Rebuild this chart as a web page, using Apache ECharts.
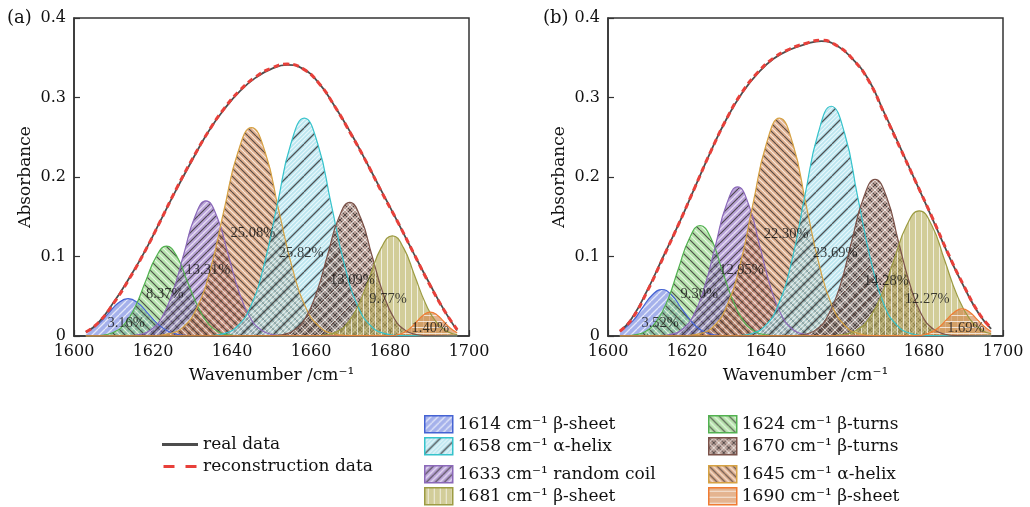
<!DOCTYPE html>
<html lang="en">
<head>
<meta charset="UTF-8">
<title>Amide I band deconvolution</title>
<script src="https://cdn.jsdelivr.net/npm/echarts@6/dist/echarts.min.js"></script>
<style>
  html, body { margin: 0; padding: 0; background: #fff; }
  #chart { width: 1030px; height: 507px; }
</style>
</head>
<body>
<div id="chart"></div>
<script>
// peak names (legend order follows the fitted components)
var peakNames = [
  '1614 cm⁻¹ β-sheet', '1624 cm⁻¹ β-turns', '1633 cm⁻¹ random coil', '1645 cm⁻¹ α-helix',
  '1658 cm⁻¹ α-helix', '1670 cm⁻¹ β-turns', '1681 cm⁻¹ β-sheet', '1690 cm⁻¹ β-sheet'
];

// ---- panel (a): fitted components [wavenumber, absorbance] ----
var a1614 = [[1603,0.0048],[1606.2,0.0153],[1608.7,0.0285],[1611.2,0.0415],[1613.7,0.047],[1616.2,0.0415],[1618.7,0.0285],[1621.2,0.0153],[1623.7,0.0064],[1626.2,0.0021],[1628.7,0.0005],[1631.2,0.0001],[1697,0]];
var a1624 = [[1603,0],[1604.9,0.0002],[1607.5,0.0013],[1610.2,0.005],[1612.8,0.0153],[1615.5,0.0367],[1618.1,0.0685],[1620.8,0.0997],[1623.4,0.113],[1626.1,0.0997],[1628.7,0.0685],[1631.4,0.0367],[1634,0.0153],[1636.7,0.005],[1639.3,0.0013],[1642,0.0002],[1697,0]];
var a1633 = [[1603,0],[1613.8,0.0004],[1616.6,0.0019],[1619.4,0.0075],[1622.2,0.023],[1625,0.0552],[1627.8,0.1031],[1630.6,0.15],[1633.4,0.17],[1636.2,0.15],[1639,0.1031],[1641.8,0.0552],[1644.6,0.023],[1647.4,0.0075],[1650.2,0.0019],[1653,0.0004],[1697,0]];
var a1645 = [[1603,0],[1620.8,0.0006],[1624.2,0.0029],[1627.7,0.0115],[1631.1,0.0354],[1634.6,0.0851],[1638,0.1589],[1641.5,0.2312],[1644.9,0.262],[1648.4,0.2312],[1651.8,0.1589],[1655.3,0.0851],[1658.7,0.0354],[1662.2,0.0115],[1665.6,0.0029],[1669.1,0.0006],[1697,0]];
var a1658 = [[1603,0],[1634.5,0.0006],[1637.9,0.003],[1641.3,0.012],[1644.7,0.0371],[1648.1,0.089],[1651.5,0.1662],[1654.9,0.2418],[1658.3,0.274],[1661.7,0.2418],[1665.1,0.1662],[1668.5,0.089],[1671.9,0.0371],[1675.3,0.012],[1678.7,0.003],[1682.1,0.0006],[1697,0]];
var a1670 = [[1603,0],[1650.2,0.0004],[1653,0.0019],[1655.8,0.0074],[1658.6,0.0227],[1661.4,0.0545],[1664.2,0.1019],[1667,0.1483],[1669.8,0.168],[1672.6,0.1483],[1675.4,0.1019],[1678.2,0.0545],[1681,0.0227],[1683.8,0.0074],[1686.6,0.0019],[1689.4,0.0004],[1697,0]];
var a1681 = [[1603,0],[1661,0.0003],[1663.8,0.0014],[1666.6,0.0055],[1669.4,0.017],[1672.2,0.0409],[1675,0.0764],[1677.8,0.1112],[1680.6,0.126],[1683.4,0.1112],[1686.2,0.0764],[1689,0.0409],[1691.8,0.017],[1694.6,0.0055],[1697,0.0017]];
var a1690 = [[1603,0],[1678.3,0.0001],[1680,0.0003],[1681.7,0.0013],[1683.4,0.0041],[1685.1,0.0097],[1686.8,0.0182],[1688.5,0.0265],[1690.2,0.03],[1691.9,0.0265],[1693.6,0.0182],[1695.3,0.0097],[1697,0.0041]];

var aReal = [[1603,0.005],[1606,0.016],[1610,0.042],[1614,0.073],[1618,0.107],[1622,0.146],[1626,0.185],[1630,0.222],[1634,0.257],[1638,0.285],[1642,0.308],[1646,0.325],[1650,0.336],[1654,0.341],[1658,0.336],[1662,0.318],[1666,0.289],[1670,0.256],[1674,0.219],[1678,0.181],[1682,0.143],[1686,0.104],[1690,0.066],[1694,0.03],[1697,0.007]];
var aRecon = [[1603,0.005],[1606,0.016],[1610,0.041],[1614,0.072],[1618,0.107],[1622,0.146],[1626,0.186],[1630,0.223],[1634,0.257],[1638,0.286],[1642,0.309],[1646,0.326],[1650,0.337],[1654,0.342],[1658,0.336],[1662,0.318],[1666,0.289],[1670,0.255],[1674,0.219],[1678,0.18],[1682,0.143],[1686,0.104],[1690,0.065],[1694,0.03],[1697,0.008]];

var aLabels = [[1613.2,0.0157,'3.16%'],[1623.0,0.052,'8.37%'],[1633.9,0.083,'13.31%'],[1645.3,0.129,'25.08%'],[1657.5,0.1046,'25.82%'],[1670.5,0.0702,'13.09%'],[1679.5,0.0467,'9.77%'],[1690.2,0.0103,'1.40%']];

// ---- panel (b) ----
var b1614 = [[1603,0.0056],[1606.3,0.019],[1608.7,0.0355],[1611.2,0.0516],[1613.6,0.0585],[1616.1,0.0516],[1618.5,0.0355],[1621,0.019],[1623.4,0.0079],[1625.9,0.0026],[1628.3,0.0006],[1630.8,0.0001],[1697,0]];
var b1624 = [[1603,0],[1604.1,0.0003],[1606.8,0.0015],[1609.6,0.0061],[1612.3,0.0188],[1615.1,0.0451],[1617.8,0.0843],[1620.6,0.1227],[1623.3,0.139],[1626.1,0.1227],[1628.8,0.0843],[1631.6,0.0451],[1634.3,0.0188],[1637.1,0.0061],[1639.8,0.0015],[1642.6,0.0003],[1697,0]];
var b1633 = [[1603,0],[1613.2,0.0004],[1616,0.0021],[1618.8,0.0082],[1621.6,0.0254],[1624.4,0.0609],[1627.2,0.1137],[1630,0.1655],[1632.8,0.1875],[1635.6,0.1655],[1638.4,0.1137],[1641.2,0.0609],[1644,0.0254],[1646.8,0.0082],[1649.6,0.0021],[1652.4,0.0004],[1697,0]];
var b1645 = [[1603,0],[1620,0.0006],[1623.3,0.003],[1626.7,0.012],[1630,0.0371],[1633.4,0.089],[1636.7,0.1662],[1640.1,0.2418],[1643.4,0.274],[1646.8,0.2418],[1650.1,0.1662],[1653.5,0.089],[1656.8,0.0371],[1660.2,0.012],[1663.5,0.003],[1666.9,0.0006],[1697,0]];
var b1658 = [[1603,0],[1633.1,0.0006],[1636.4,0.0032],[1639.8,0.0127],[1643.1,0.0391],[1646.5,0.0938],[1649.8,0.1753],[1653.2,0.255],[1656.5,0.289],[1659.9,0.255],[1663.2,0.1753],[1666.6,0.0938],[1669.9,0.0391],[1673.3,0.0127],[1676.6,0.0032],[1680,0.0006],[1697,0]];
var b1670 = [[1603,0],[1647,0.0004],[1649.9,0.0022],[1652.9,0.0086],[1655.8,0.0267],[1658.8,0.064],[1661.7,0.1195],[1664.7,0.1739],[1667.6,0.197],[1670.6,0.1739],[1673.5,0.1195],[1676.5,0.064],[1679.4,0.0267],[1682.4,0.0086],[1685.3,0.0022],[1688.3,0.0004],[1697,0]];
var b1681 = [[1603,0],[1656.4,0.0003],[1659.6,0.0017],[1662.8,0.0069],[1666,0.0213],[1669.2,0.0511],[1672.4,0.0955],[1675.6,0.139],[1678.8,0.1575],[1682,0.139],[1685.2,0.0955],[1688.4,0.0511],[1691.6,0.0213],[1694.8,0.0069],[1697,0.0028]];
var b1690 = [[1603,0],[1676,0.0001],[1677.9,0.0004],[1679.9,0.0015],[1681.8,0.0046],[1683.8,0.011],[1685.7,0.0206],[1687.7,0.03],[1689.6,0.034],[1691.6,0.03],[1693.5,0.0206],[1695.5,0.011],[1697,0.0056]];

var bReal = [[1603,0.006],[1606,0.022],[1610,0.058],[1614,0.1],[1618,0.142],[1622,0.187],[1626,0.232],[1630,0.273],[1634,0.306],[1638,0.331],[1642,0.349],[1646,0.36],[1650,0.367],[1654,0.371],[1658,0.365],[1662,0.348],[1666,0.322],[1670,0.28],[1674,0.237],[1678,0.193],[1682,0.149],[1686,0.104],[1690,0.063],[1694,0.027],[1697,0.009]];
var bRecon = [[1603,0.006],[1606,0.021],[1610,0.057],[1614,0.099],[1618,0.142],[1622,0.187],[1626,0.232],[1630,0.273],[1634,0.307],[1638,0.332],[1642,0.35],[1646,0.361],[1650,0.368],[1654,0.372],[1658,0.365],[1662,0.348],[1666,0.321],[1670,0.279],[1674,0.236],[1678,0.193],[1682,0.15],[1686,0.105],[1690,0.064],[1694,0.028],[1697,0.01]];

var bLabels = [[1613.2,0.0166,'3.52%'],[1623.1,0.053,'9.30%'],[1633.8,0.0823,'12.95%'],[1645.1,0.1285,'22.30%'],[1657.5,0.1046,'23.69%'],[1670.5,0.069,'14.28%'],[1680.8,0.0459,'12.27%'],[1690.6,0.0103,'1.69%']];

var xTicks = [1600, 1700, 20];
var yTicks = [0, 0.4, 0.1];

// hatch patterns -----------------------------------------------------------
function makePattern(size, fill, strokes) {
  var c = document.createElement('canvas');
  c.width = c.height = size;
  var g = c.getContext('2d');
  g.fillStyle = fill;
  g.fillRect(0, 0, size, size);
  strokes.forEach(function (s) {
    g.strokeStyle = s.c;
    g.lineWidth = s.w || 1;
    g.beginPath();
    (s.o || [0]).forEach(function (o) {
      var d, k;
      for (k = -1; k <= 2; k++) {
        d = size * (k + o);
        if (s.t === '/') { g.moveTo(d, 0); g.lineTo(d - size, size); }
        if (s.t === '\\') { g.moveTo(d, 0); g.lineTo(d + size, size); }
      }
      if (s.t === '|') { g.moveTo(size * o + 0.5, 0); g.lineTo(size * o + 0.5, size); }
      if (s.t === '-') { g.moveTo(0, size * o + 0.5); g.lineTo(size, size * o + 0.5); }
    });
    g.stroke();
  });
  return { image: c, repeat: 'repeat' };
}

var DARK = 'rgba(60,55,55,0.85)';
var WHITE = 'rgba(255,255,255,0.7)';
var peakStyles = [
  { edge: '#4563d3', pattern: makePattern(7, 'rgba(75,100,215,0.5)', [{ t: '/', c: WHITE, w: 1.3 }]) },
  { edge: '#52b150', pattern: makePattern(10, 'rgba(110,200,90,0.5)', [{ t: '\\', c: DARK, w: 1.2 }, { t: '\\', c: WHITE, w: 1.2, o: [0.5] }]) },
  { edge: '#8b69b9', pattern: makePattern(9, 'rgba(130,90,185,0.55)', [{ t: '/', c: DARK, w: 1.2 }, { t: '/', c: WHITE, w: 1.2, o: [0.5] }]) },
  { edge: '#d6a243', pattern: makePattern(8, 'rgba(205,125,70,0.6)', [{ t: '\\', c: DARK, w: 1.1 }, { t: '\\', c: WHITE, w: 1.1, o: [0.5] }]) },
  { edge: '#36c3cb', pattern: makePattern(16, 'rgba(120,205,225,0.5)', [{ t: '/', c: DARK, w: 1.3 }, { t: '/', c: WHITE, w: 1.1, o: [0.25, 0.5, 0.75] }]) },
  { edge: '#7b5249', pattern: makePattern(10, 'rgba(125,80,65,0.55)', [{ t: '/', c: DARK, w: 1 }, { t: '\\', c: DARK, w: 1 }, { t: '/', c: WHITE, w: 1, o: [0.5] }, { t: '\\', c: WHITE, w: 1, o: [0.5] }]) },
  { edge: '#9c9b42', pattern: makePattern(6, 'rgba(180,172,85,0.6)', [{ t: '|', c: WHITE, w: 1, o: [0.5] }]) },
  { edge: '#f07c33', pattern: makePattern(6, 'rgba(210,130,70,0.6)', [{ t: '-', c: WHITE, w: 1, o: [0.5] }]) }
];

var SERIF = 'DejaVu Serif';
var AXIS = '#333';

function peakSeries(name, data, idx, st) {
  return {
    name: name, type: 'line', xAxisIndex: idx, yAxisIndex: idx,
    data: data, smooth: 0.5, symbol: 'none', silent: true, z: 2,
    lineStyle: { color: st.edge, width: 1.2 },
    itemStyle: { color: st.edge },
    areaStyle: { color: st.pattern, opacity: 1 }
  };
}

function envelopeSeries(idx, real, recon) {
  return [
    { name: 'real data', type: 'line', xAxisIndex: idx, yAxisIndex: idx, data: real,
      smooth: true, symbol: 'none', silent: true, z: 4,
      lineStyle: { color: '#4d4d4d', width: 1.8 }, itemStyle: { color: '#4d4d4d' } },
    { name: 'reconstruction data', type: 'line', xAxisIndex: idx, yAxisIndex: idx, data: recon,
      smooth: true, symbol: 'none', silent: true, z: 5,
      lineStyle: { color: '#e8403a', width: 3, type: [6, 4] }, itemStyle: { color: '#e8403a' } }
  ];
}

function labelSeries(idx, labels) {
  return {
    type: 'scatter', xAxisIndex: idx, yAxisIndex: idx, data: labels,
    symbolSize: 1, itemStyle: { color: 'transparent' }, silent: true, z: 6,
    label: { show: true, position: 'inside', formatter: function (p) { return p.data[2]; },
      fontFamily: 'Liberation Serif', fontSize: 14.5, color: '#111' }
  };
}

function xAxisCfg(idx) {
  return {
    gridIndex: idx, type: 'value', min: xTicks[0], max: xTicks[1], interval: xTicks[2],
    name: 'Wavenumber /cm⁻¹', nameLocation: 'middle', nameGap: 31,
    nameTextStyle: { fontFamily: SERIF, fontSize: 17, color: '#111' },
    axisLine: { lineStyle: { color: AXIS, width: 1.5 } },
    axisTick: { inside: true, length: 6, lineStyle: { color: AXIS, width: 1.2 } },
    minorTick: { show: true, splitNumber: 2, length: 4, lineStyle: { color: AXIS, width: 1.1 } },
    axisLabel: { fontFamily: SERIF, fontSize: 16, color: '#111', margin: 8,
      formatter: function (v) { return String(v); } },
    splitLine: { show: false }, minorSplitLine: { show: false }
  };
}

function yAxisCfg(idx) {
  return {
    gridIndex: idx, type: 'value', min: yTicks[0], max: yTicks[1], interval: yTicks[2],
    name: 'Absorbance', nameLocation: 'middle', nameGap: 40, nameRotate: 90,
    nameTextStyle: { fontFamily: SERIF, fontSize: 17, color: '#111' },
    axisLine: { lineStyle: { color: AXIS, width: 1.5 } },
    axisTick: { inside: true, length: 6, lineStyle: { color: AXIS, width: 1.2 } },
    axisLabel: { fontFamily: SERIF, fontSize: 16, color: '#111', margin: 8,
      formatter: function (v) { return v === 0 ? '0' : v.toFixed(1); } },
    splitLine: { show: false }
  };
}

var peaksA = [a1614, a1624, a1633, a1645, a1658, a1670, a1681, a1690];
var peaksB = [b1614, b1624, b1633, b1645, b1658, b1670, b1681, b1690];

var series = [];
peaksA.forEach(function (d, i) { series.push(peakSeries(peakNames[i], d, 0, peakStyles[i])); });
series = series.concat(envelopeSeries(0, aReal, aRecon));
series.push(labelSeries(0, aLabels));
peaksB.forEach(function (d, i) { series.push(peakSeries(peakNames[i], d, 1, peakStyles[i])); });
series = series.concat(envelopeSeries(1, bReal, bRecon));
series.push(labelSeries(1, bLabels));

function peakLegendItem(i) {
  return { name: peakNames[i], icon: 'rect',
    itemStyle: { color: peakStyles[i].pattern, borderColor: peakStyles[i].edge, borderWidth: 1.5 } };
}

function peakLegend(left, top, ids) {
  return {
    orient: 'vertical', left: left, top: top, padding: 0, itemGap: 3.5,
    itemWidth: 28, itemHeight: 17, selectedMode: false,
    textStyle: { fontFamily: SERIF, fontSize: 17, color: '#111' },
    data: ids.map(peakLegendItem)
  };
}

var option = {
  animation: false,
  backgroundColor: '#fff',
  grid: [
    { left: 74, top: 18, width: 395, height: 318, show: true, borderColor: AXIS, borderWidth: 1.5 },
    { left: 608, top: 18, width: 395, height: 318, show: true, borderColor: AXIS, borderWidth: 1.5 }
  ],
  xAxis: [xAxisCfg(0), xAxisCfg(1)],
  yAxis: [yAxisCfg(0), yAxisCfg(1)],
  legend: [
    {
      orient: 'vertical', left: 162, top: 436, padding: 0, itemGap: 5,
      itemWidth: 36, itemHeight: 3, selectedMode: false,
      textStyle: { fontFamily: SERIF, fontSize: 17, color: '#111' },
      data: [
        { name: 'real data', icon: 'rect', itemStyle: { color: '#4d4d4d', borderWidth: 0 } },
        { name: 'reconstruction data', icon: 'path://M0,0H11V3H0Z M22,0H33V3H22Z',
          itemStyle: { color: '#e8403a', borderWidth: 0 } }
      ]
    },
    peakLegend(424, 415, [0, 4]),
    peakLegend(708, 415, [1, 5]),
    peakLegend(424, 465, [2, 6]),
    peakLegend(708, 465, [3, 7])
  ],
  graphic: [
    { type: 'text', left: 7, top: 9, style: { text: '(a)', font: '18px "DejaVu Serif"', fill: '#111' } },
    { type: 'text', left: 543, top: 9, style: { text: '(b)', font: '18px "DejaVu Serif"', fill: '#111' } }
  ],
  series: series
};

var myChart = echarts.init(document.getElementById('chart'));
myChart.setOption(option);
</script>
</body>
</html>
